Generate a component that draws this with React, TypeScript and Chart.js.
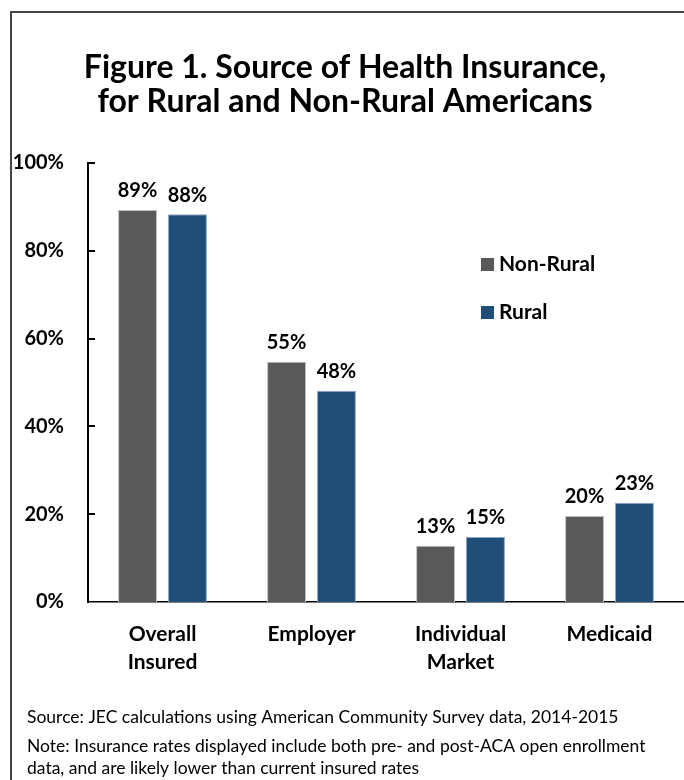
import React, { useEffect, useRef } from "react";
import { Chart, registerables } from "chart.js";

Chart.register(...registerables);

const categories: (string | string[])[] = [["Overall", "Insured"], "Employer", ["Individual", "Market"], "Medicaid"];
const nonRural = [89.3, 54.7, 12.8, 19.6];
const rural = [88.3, 48.1, 14.8, 22.6];
const nonRuralLabels = ["89%", "55%", "13%", "20%"];
const ruralLabels = ["88%", "48%", "15%", "23%"];
const yTicks = [0, 20, 40, 60, 80, 100];
const titleLines = ["Figure 1. Source of Health Insurance,", "for Rural and Non-Rural Americans"];
const seriesNames = ["Non-Rural", "Rural"];
const notes = [
  "Source: JEC calculations using American Community Survey data, 2014-2015",
  "Note: Insurance rates displayed include both pre- and post-ACA open enrollment",
  "data, and are likely lower than current insured rates",
];

const GRAY = "#595959";
const BLUE = "#1F4E79";
const FONT = "Lato, 'Open Sans', sans-serif";

export default function App() {
  const ref = useRef<HTMLCanvasElement>(null);
  useEffect(() => {
    document.body.style.margin = "0";
    const canvas = ref.current!;
    const deco = {
      id: "deco",
      beforeDraw(chart: any) {
        const ctx = chart.ctx;
        ctx.save();
        ctx.fillStyle = "#fff";
        ctx.fillRect(0, 0, chart.width, chart.height);
        ctx.strokeStyle = "#444";
        ctx.lineWidth = 2;
        ctx.beginPath();
        ctx.moveTo(11, 790);
        ctx.lineTo(11, 12);
        ctx.lineTo(700, 12);
        ctx.stroke();
        ctx.fillStyle = "#000";
        ctx.textAlign = "center";
        ctx.textBaseline = "middle";
        ctx.font = `bold 32px ${FONT}`;
        ctx.fillText(titleLines[0], 345, 68);
        ctx.fillText(titleLines[1], 345, 102);
        ctx.restore();
      },
      afterDraw(chart: any) {
        const ctx = chart.ctx;
        const y = chart.scales.y;
        const area = chart.chartArea;
        ctx.save();
        ctx.strokeStyle = "#000";
        ctx.lineWidth = 2;
        yTicks.forEach((t) => {
          const py = Math.round(y.getPixelForValue(t));
          if (t === 0) return;
          ctx.beginPath();
          ctx.moveTo(area.left, py);
          ctx.lineTo(area.left + 7, py);
          ctx.stroke();
        });
        // data labels
        ctx.fillStyle = "#000";
        ctx.font = `bold 20px ${FONT}`;
        ctx.textAlign = "center";
        ctx.textBaseline = "bottom";
        const labelSets = [nonRuralLabels, ruralLabels];
        chart.data.datasets.forEach((ds: any, di: number) => {
          const meta = chart.getDatasetMeta(di);
          meta.data.forEach((bar: any, i: number) => {
            ctx.fillText(labelSets[di][i], bar.x, bar.y - 9);
          });
        });
        // legend
        const colors = [GRAY, BLUE];
        const ly = [264, 312];
        ctx.font = `bold 21px ${FONT}`;
        ctx.textAlign = "left";
        ctx.textBaseline = "middle";
        seriesNames.forEach((n, i) => {
          ctx.fillStyle = colors[i];
          ctx.fillRect(481, ly[i] - 6, 13, 13);
          ctx.fillStyle = "#000";
          ctx.fillText(n, 499, ly[i]);
        });
        // notes
        ctx.font = `17.5px ${FONT}`;
        ctx.fillStyle = "#000";
        ctx.fillText(notes[0], 27, 717);
        ctx.fillText(notes[1], 27, 746);
        ctx.fillText(notes[2], 27, 768);
        ctx.restore();
      },
    };
    const chart = new Chart(canvas, {
      type: "bar",
      data: {
        labels: categories,
        datasets: [
          { label: seriesNames[0], data: nonRural, backgroundColor: GRAY, borderColor: "#bfbfbf", borderWidth: { top: 1, left: 1, right: 1, bottom: 0 } as any },
          { label: seriesNames[1], data: rural, backgroundColor: BLUE, borderColor: "#8fa9c4", borderWidth: { top: 1, left: 1, right: 1, bottom: 0 } as any },
        ],
      },
      options: {
        animation: false,
        responsive: false,
        devicePixelRatio: 1,
        layout: { padding: { top: 163, left: 0, right: 0, bottom: 0 } },
        plugins: { legend: { display: false }, tooltip: { enabled: false }, title: { display: false } },
        datasets: { bar: { categoryPercentage: 0.67, barPercentage: 0.78 } },
        scales: {
          x: {
            grid: { display: false },
            border: { display: true, color: "#000", width: 1.5 },
            ticks: { color: "#000", font: { family: FONT, weight: "bold", size: 21, lineHeight: 1.3 }, padding: 11, maxRotation: 0 },
            afterFit: (s: any) => { s.height = 178; },
          },
          y: {
            min: 0,
            max: 100,
            afterBuildTicks: (s: any) => { s.ticks = yTicks.map((v) => ({ value: v })); },
            grid: { display: false },
            border: { display: true, color: "#000", width: 2 },
            ticks: { color: "#000", font: { family: FONT, weight: "bold", size: 20 }, padding: 16, callback: (v: any) => v + "%" },
            afterFit: (s: any) => { s.width = 88; },
          },
        },
      },
      plugins: [deco],
    });
    return () => chart.destroy();
  }, []);
  return <canvas ref={ref} width={684} height={780} style={{ display: "block" }} />;
}
